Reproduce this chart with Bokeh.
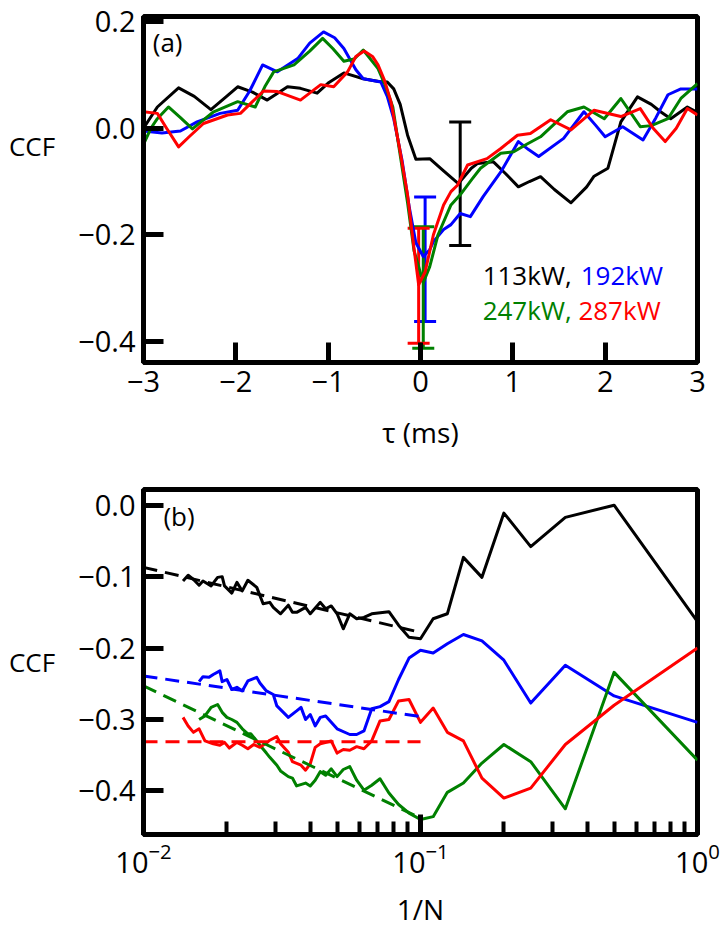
from bokeh.plotting import figure
from bokeh.layouts import column
from bokeh.models import (FixedTicker, Whisker, TeeHead, ColumnDataSource, Label,
                          Range1d, CustomJSTickFormatter)
from bokeh.embed import file_html
from bokeh.resources import INLINE

# ---------------- data: panel (a) ----------------
tau_black = [-3.0, -2.85, -2.62, -2.45, -2.27, -2.10, -1.98, -1.82, -1.66, -1.44, -1.30, -1.12,
             -1.0, -0.83, -0.62, -0.45, -0.36, -0.29, -0.22, -0.14, -0.05, 0.10, 0.25, 0.41,
             0.55, 0.62, 0.79, 0.92, 1.06, 1.18, 1.30, 1.45, 1.63, 1.80, 1.88, 2.03, 2.17,
             2.35, 2.50, 2.60, 2.71, 2.89, 3.0]
ccf_black = [0.00, 0.04, 0.076, 0.06, 0.035, 0.06, 0.078, 0.068, 0.053, 0.078, 0.075, 0.066,
             0.085, 0.104, 0.093, 0.088, 0.087, 0.074, 0.045, -0.013, -0.058, -0.057, -0.08, -0.104,
             -0.075, -0.066, -0.063, -0.085, -0.11, -0.10, -0.091, -0.115, -0.14, -0.11, -0.09,
             -0.075, 0.012, 0.059, 0.045, 0.031, 0.018, 0.04, 0.03]

tau_blue = [-3.0, -2.8, -2.6, -2.42, -2.17, -1.98, -1.85, -1.71, -1.55, -1.33, -1.2, -1.05,
            -0.93, -0.83, -0.70, -0.62, -0.43, -0.36, -0.29, -0.2, -0.12, -0.05, 0.03, 0.10,
            0.14, 0.25, 0.33, 0.43, 0.54, 0.68, 0.87, 1.06, 1.17, 1.28, 1.55, 1.77, 1.9, 2.0,
            2.19, 2.41, 2.55, 2.68, 2.82, 3.0]
ccf_blue = [-0.005, -0.009, -0.005, 0.012, 0.028, 0.034, 0.07, 0.119, 0.106, 0.131, 0.16, 0.181,
            0.17, 0.15, 0.11, 0.093, 0.087, 0.06, 0.018, -0.06, -0.15, -0.215, -0.241, -0.228,
            -0.213, -0.19, -0.181, -0.16, -0.166, -0.128, -0.082, -0.025, -0.04, -0.053, -0.019,
            0.031, 0.005, -0.016, 0.003, -0.022, 0.02, 0.063, 0.074, 0.074]

tau_green = [-3.0, -2.92, -2.85, -2.73, -2.6, -2.47, -2.24, -1.98, -1.79, -1.68, -1.59, -1.37,
             -1.2, -1.06, -0.95, -0.83, -0.72, -0.62, -0.46, -0.38, -0.3, -0.22, -0.14, -0.07,
             0.03, 0.10, 0.19, 0.33, 0.43, 0.56, 0.65, 0.87, 1.01, 1.15, 1.30, 1.59, 1.77,
             1.99, 2.17, 2.38, 2.5, 2.68, 2.82, 3.0]
ccf_green = [-0.03, 0.0, 0.018, 0.04, 0.02, -0.001, 0.031, 0.05, 0.04, 0.08, 0.106, 0.119,
             0.145, 0.169, 0.15, 0.126, 0.13, 0.147, 0.112, 0.08, 0.04, -0.05, -0.14, -0.23,
             -0.29, -0.26, -0.2, -0.144, -0.125, -0.095, -0.075, -0.047, -0.044, -0.03, -0.016,
             0.031, 0.04, 0.018, 0.056, 0.003, 0.005, 0.018, 0.056, 0.084]

tau_red = [-3.0, -2.85, -2.75, -2.62, -2.5, -2.35, -2.09, -1.95, -1.82, -1.70, -1.55, -1.30,
           -1.08, -0.94, -0.79, -0.70, -0.61, -0.52, -0.46, -0.39, -0.32, -0.22, -0.14, -0.07,
           -0.02, 0.05, 0.14, 0.25, 0.33, 0.40, 0.51, 0.72, 0.87, 1.05, 1.19, 1.41, 1.63, 1.88,
           2.17, 2.38, 2.52, 2.65, 2.77, 2.89, 3.0]
ccf_red = [0.031, 0.028, 0.0, -0.035, -0.015, 0.009, 0.025, 0.028, 0.05, 0.07, 0.069, 0.053,
           0.082, 0.078, 0.106, 0.135, 0.145, 0.135, 0.119, 0.09, 0.05, -0.044, -0.125, -0.226,
           -0.294, -0.27, -0.2, -0.144, -0.119, -0.107, -0.069, -0.057, -0.038, -0.013, -0.010,
           0.016, -0.003, 0.034, 0.022, 0.037, 0.0, -0.025, 0.0, 0.037, 0.025]

# error bars at the peaks
err_x = [0.43, 0.05, 0.03, -0.02]
err_lo = [-0.22, -0.363, -0.413, -0.404]
err_hi = [0.012, -0.129, -0.185, -0.188]
err_col = ["black", "blue", "green", "red"]

# ---------------- data: panel (b) ----------------
n_black = [72, 69, 66, 63, 61, 57, 54, 52, 51, 48, 46, 44, 42, 39, 37, 35, 34, 32, 30, 29, 28,
           26, 25, 23, 22, 21, 20, 19, 18, 17, 16, 15, 13, 12, 11, 10, 9, 8, 7, 6, 5, 4, 3, 2, 1]
v_black = [-0.106, -0.098, -0.104, -0.112, -0.106, -0.113, -0.101, -0.100, -0.113, -0.123,
           -0.108, -0.120, -0.105, -0.115, -0.138, -0.136, -0.143, -0.152, -0.140, -0.150,
           -0.150, -0.143, -0.152, -0.136, -0.145, -0.141, -0.152, -0.173, -0.152, -0.159,
           -0.157, -0.152, -0.149, -0.168, -0.185, -0.187, -0.159, -0.152, -0.073, -0.101,
           -0.011, -0.058, -0.017, 0.0, -0.163]

n_blue = [63, 61, 58, 56, 53, 52, 50, 48, 46, 44, 42, 39, 38, 36, 34, 33, 30, 28, 27, 26, 25,
          24, 23, 22, 20, 18, 17, 16, 15, 14, 13, 12, 11, 10, 9, 8, 7, 6, 5, 4, 3, 2, 1]
v_blue = [-0.247, -0.240, -0.241, -0.237, -0.232, -0.247, -0.244, -0.258, -0.255, -0.260,
          -0.246, -0.241, -0.249, -0.260, -0.265, -0.281, -0.297, -0.288, -0.283, -0.300,
          -0.293, -0.309, -0.297, -0.295, -0.313, -0.321, -0.321, -0.316, -0.285, -0.282,
          -0.275, -0.244, -0.214, -0.203, -0.207, -0.194, -0.181, -0.190, -0.217, -0.277,
          -0.224, -0.267, -0.304]

n_green = [63, 60, 57, 54, 52, 50, 48, 46, 44, 42, 41, 39, 38, 36, 35, 33, 32, 30, 29, 28, 26,
           25, 24, 23, 22, 21, 20, 19, 18, 17, 16, 15, 14, 13, 12, 11, 10, 9, 8, 7, 6, 5, 4,
           3, 2, 1]
v_green = [-0.300, -0.295, -0.283, -0.279, -0.290, -0.297, -0.300, -0.304, -0.313, -0.320,
           -0.320, -0.330, -0.336, -0.347, -0.353, -0.364, -0.372, -0.380, -0.382, -0.393,
           -0.389, -0.393, -0.385, -0.373, -0.378, -0.369, -0.380, -0.370, -0.366, -0.385,
           -0.399, -0.392, -0.383, -0.403, -0.419, -0.431, -0.440, -0.436, -0.402, -0.389,
           -0.361, -0.335, -0.359, -0.425, -0.234, -0.357]

n_red = [72, 69, 66, 63, 60, 56, 53, 51, 49, 46, 44, 42, 40, 38, 36, 35, 33, 32, 30, 29, 27,
         26, 25, 24, 23, 21, 20, 19, 18, 17, 16, 15, 14, 13, 12, 11, 10, 9, 8, 7, 6, 5, 4, 3,
         2, 1]
v_red = [-0.297, -0.309, -0.318, -0.313, -0.330, -0.334, -0.336, -0.332, -0.340, -0.332,
         -0.336, -0.341, -0.335, -0.339, -0.333, -0.329, -0.324, -0.334, -0.346, -0.359,
         -0.364, -0.371, -0.362, -0.339, -0.334, -0.330, -0.347, -0.342, -0.343, -0.338,
         -0.341, -0.330, -0.302, -0.300, -0.274, -0.272, -0.304, -0.284, -0.318, -0.330,
         -0.382, -0.410, -0.396, -0.335, -0.280, -0.200]

# linear fits (in log 1/N) over 0.01..0.1
fit_x = [0.01, 0.1]
fit_black = [-0.087, -0.178]
fit_blue = [-0.239, -0.296]
fit_green = [-0.253, -0.438]
fit_red = [-0.331, -0.331]

# ---------------- styling ----------------
FONT = "Open Sans"
BLACK, BLUE, GREEN, RED = "#000000", "#0000ff", "#008000", "#ff0000"

num_fmt = CustomJSTickFormatter(code="""
const s = Math.abs(tick) < 1e-9 ? (0).toFixed(1) : tick.toFixed(1);
return s.replace('-', '\u2212');""")
int_fmt = CustomJSTickFormatter(code="""
const s = tick.toFixed(0);
return s.replace('-', '\u2212');""")


def style(p):
    p.outline_line_color = "black"
    p.outline_line_width = 5
    p.outline_line_alpha = 1
    p.grid.visible = False
    p.background_fill_color = "white"
    p.border_fill_color = "white"
    for ax in p.axis:
        ax.axis_line_width = 5
        ax.major_tick_line_width = 5
        ax.major_tick_in = 20
        ax.major_tick_out = 0
        ax.minor_tick_line_color = None
        ax.major_label_text_font = FONT
        ax.major_label_text_font_size = "29px"
        ax.major_label_text_color = "black"
        ax.axis_label_text_font = FONT
        ax.axis_label_text_font_size = "28px"
        ax.axis_label_text_font_style = "normal"
        ax.axis_label_text_color = "black"
    p.yaxis.axis_label_text_font_size = "26px"
    p.yaxis.axis_label_orientation = "horizontal"
    p.yaxis.axis_label_standoff = 20
    p.yaxis.major_label_standoff = 8
    p.xaxis.major_label_standoff = 8


# ---------------- panel (a) ----------------
p1 = figure(width=724, height=465, x_range=Range1d(-3, 3), y_range=Range1d(-0.44, 0.21),
            output_backend="svg", toolbar_location=None,
            min_border_left=143, min_border_right=27, min_border_top=16, min_border_bottom=103)
style(p1)
p1.xaxis.ticker = FixedTicker(ticks=[-3, -2, -1, 0, 1, 2, 3])
p1.yaxis.ticker = FixedTicker(ticks=[-0.4, -0.2, 0.0, 0.2])
p1.xaxis.formatter = int_fmt
p1.yaxis.formatter = num_fmt
p1.xaxis.axis_label = "τ (ms)"
p1.yaxis.axis_label = "CCF\n\n"
p1.xaxis.axis_label_standoff = 18

for xs, ys, c in [(tau_black, ccf_black, BLACK), (tau_blue, ccf_blue, BLUE),
                  (tau_green, ccf_green, GREEN), (tau_red, ccf_red, RED)]:
    p1.line(xs, ys, line_color=c, line_width=3, line_join="round")

for i in range(len(err_x)):
    src = ColumnDataSource(dict(x=[err_x[i]], lo=[err_lo[i]], hi=[err_hi[i]]))
    c = {"black": BLACK, "blue": BLUE, "green": GREEN, "red": RED}[err_col[i]]
    w = Whisker(source=src, base="x", lower="lo", upper="hi", dimension="height",
                line_color=c, line_width=3,
                upper_head=TeeHead(size=22, line_color=c, line_width=3),
                lower_head=TeeHead(size=22, line_color=c, line_width=3))
    p1.add_layout(w)

p1.add_layout(Label(x=-2.90, y=0.162, text="(a)", text_font=FONT, text_font_size="26px",
                    text_baseline="middle", text_color="black"))
legend_rows = [("113kW, ", BLACK, 0.673, -0.275), ("192kW", BLUE, 1.735, -0.275),
               ("247kW, ", GREEN, 0.673, -0.341), ("287kW", RED, 1.71, -0.341)]
for t, c, x, y in legend_rows:
    p1.add_layout(Label(x=x, y=y, text=t, text_font=FONT, text_font_size="26px",
                        text_baseline="middle", text_color=c))

# ---------------- panel (b) ----------------
p2 = figure(width=724, height=465, x_axis_type="log", x_range=Range1d(0.01, 1),
            y_range=Range1d(-0.461, 0.022), output_backend="svg", toolbar_location=None,
            min_border_left=143, min_border_right=27, min_border_top=24, min_border_bottom=92)
style(p2)
p2.xaxis.ticker = FixedTicker(ticks=[0.01, 0.1, 1],
                              minor_ticks=[0.02, 0.03, 0.04, 0.05, 0.06, 0.07, 0.08, 0.09,
                                           0.2, 0.3, 0.4, 0.5, 0.6, 0.7, 0.8, 0.9])
p2.xaxis.minor_tick_line_color = "black"
p2.xaxis.minor_tick_line_width = 4
p2.xaxis.minor_tick_in = 13
p2.xaxis.minor_tick_out = 0
p2.yaxis.ticker = FixedTicker(ticks=[-0.4, -0.3, -0.2, -0.1, 0.0])
p2.yaxis.formatter = num_fmt
p2.xaxis.axis_label = "1/N"
p2.yaxis.axis_label = "CCF"
p2.xaxis.axis_label_standoff = 14

for ns, vs, c in [(n_black, v_black, BLACK), (n_blue, v_blue, BLUE),
                  (n_green, v_green, GREEN), (n_red, v_red, RED)]:
    p2.line([1.0 / n for n in ns], vs, line_color=c, line_width=3, line_join="round")

for fy, c in [(fit_black, BLACK), (fit_blue, BLUE), (fit_green, GREEN), (fit_red, RED)]:
    p2.line(fit_x, fy, line_color=c, line_width=3, line_dash="14 8")

p2.add_layout(Label(x=0.0118, y=-0.015, text="(b)", text_font=FONT, text_font_size="26px",
                    text_baseline="middle", text_color="black"))

layout = column(p1, p2, spacing=0)
open("out.html", "w").write(file_html(layout, INLINE))
